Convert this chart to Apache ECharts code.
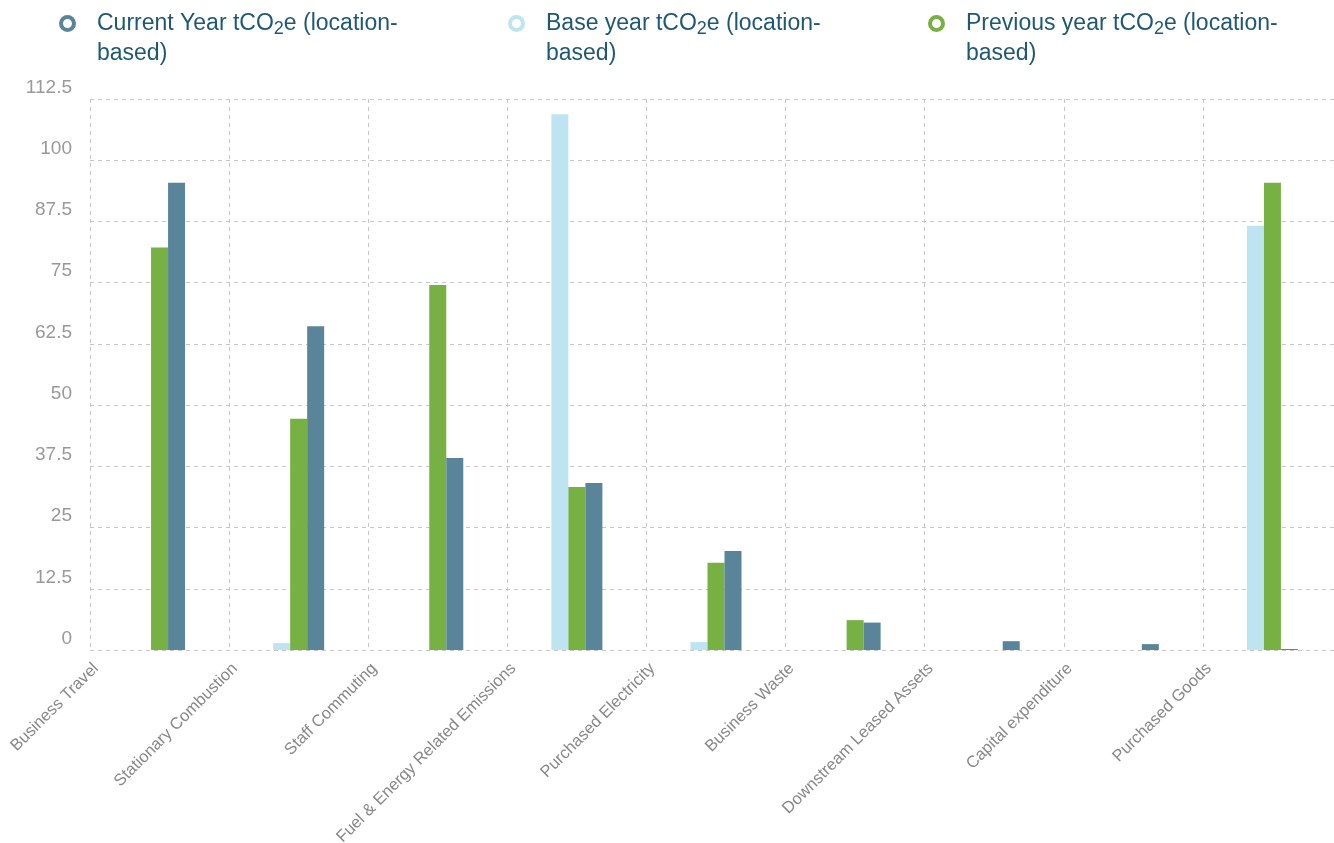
<!DOCTYPE html>
<html>
<head>
<meta charset="utf-8">
<title>Emissions by category</title>
<script src="https://cdn.jsdelivr.net/npm/echarts@6/dist/echarts.min.js"></script>
<style>
  html, body { margin: 0; padding: 0; background: #fff; }
  #chart-box { width: 1334px; height: 843px; }
</style>
</head>
<body>
<div id="chart-box"></div>
<script>
// ---------------- data ----------------
var categories = ['Business Travel', 'Stationary Combustion', 'Staff Commuting', 'Fuel & Energy Related Emissions',
  'Purchased Electricity', 'Business Waste', 'Downstream Leased Assets', 'Capital expenditure', 'Purchased Goods'];
var baseYear = [0, 1.4, 0, 109.4, 1.6, 0, 0, 0, 86.6];
var previousYear = [82.2, 47.2, 74.5, 33.3, 17.8, 6.1, 0, 0, 95.4];
var currentYear = [95.4, 66.1, 39.2, 34.1, 20.2, 5.6, 1.8, 1.2, 0.2];
var seriesNames = ['Current Year tCO2e (location-based)', 'Base year tCO2e (location-based)', 'Previous year tCO2e (location-based)'];
var yTicks = { min: 0, max: 112.5, step: 12.5 };

var colors = { current: '#5a8499', base: '#bde4f0', previous: '#77b043' };
var textColor = '#1f5873';
var dash = { color: '#c8c8c8', width: 1, type: [4, 4] };

// ---------------- legend ----------------
function legendFor(name, color, left) {
  return {
    data: [name],
    left: left,
    top: 12,
    padding: 0,
    icon: 'circle',
    itemWidth: 13,
    itemHeight: 13,
    itemStyle: { color: '#fff', borderColor: color, borderWidth: 4 },
    formatter: function (n) {
      var head = n.split(' tCO2e ')[0];
      return '{n|' + head + ' tCO}{s|2}{n|e (location-}\n{n|based)}';
    },
    textStyle: {
      padding: [30, 0, 0, 18],
      rich: {
        n: { fontSize: 23, lineHeight: 30, color: textColor, fontFamily: 'Liberation Sans' },
        s: { fontSize: 18, lineHeight: 16, verticalAlign: 'bottom', color: textColor, fontFamily: 'Liberation Sans' }
      }
    }
  };
}

// label axis sits on the band edges, so it gets one extra empty slot
var edgeLabels = categories.concat(['']);

var option = {
  animation: false,
  textStyle: { fontFamily: 'Liberation Sans, Arial, sans-serif' },
  legend: [
    legendFor(seriesNames[0], colors.current, 59),
    legendFor(seriesNames[1], colors.base, 508),
    legendFor(seriesNames[2], colors.previous, 928)
  ],
  grid: [
    { left: 90, right: -8, top: 99, bottom: 193, outerBoundsMode: 'none' },
    { left: 96, right: -14, top: 99, bottom: 193, outerBoundsMode: 'none' }
  ],
  xAxis: [
    {
      type: 'category',
      gridIndex: 0,
      data: categories,
      axisLine: { show: false },
      axisTick: { show: false },
      axisLabel: { show: false, interval: 0 },
      splitLine: { show: true, interval: 0, lineStyle: dash }
    },
    {
      type: 'category',
      gridIndex: 1,
      data: edgeLabels,
      boundaryGap: false,
      axisLine: { show: false },
      axisTick: { show: false },
      splitLine: { show: false },
      axisLabel: { interval: 0, rotate: 45, margin: 16, fontSize: 16.5, color: '#888' }
    }
  ],
  yAxis: [
    {
      type: 'value',
      gridIndex: 0,
      min: yTicks.min,
      max: yTicks.max,
      interval: yTicks.step,
      axisLine: { show: false },
      axisTick: { show: false },
      splitLine: { show: true, lineStyle: dash },
      axisLabel: { fontSize: 19, color: '#999', margin: 18, verticalAlign: 'bottom', padding: [0, 0, 2, 0] }
    },
    { type: 'value', gridIndex: 1, show: false, min: yTicks.min, max: yTicks.max }
  ],
  series: [
    { name: seriesNames[1], type: 'bar', data: baseYear, barWidth: 17, barGap: '0%', itemStyle: { color: colors.base } },
    { name: seriesNames[2], type: 'bar', data: previousYear, barWidth: 17, barGap: '0%', itemStyle: { color: colors.previous } },
    { name: seriesNames[0], type: 'bar', data: currentYear, barWidth: 17, barGap: '0%', itemStyle: { color: colors.current } }
  ]
};

echarts.init(document.getElementById('chart-box')).setOption(option);
</script>
</body>
</html>
